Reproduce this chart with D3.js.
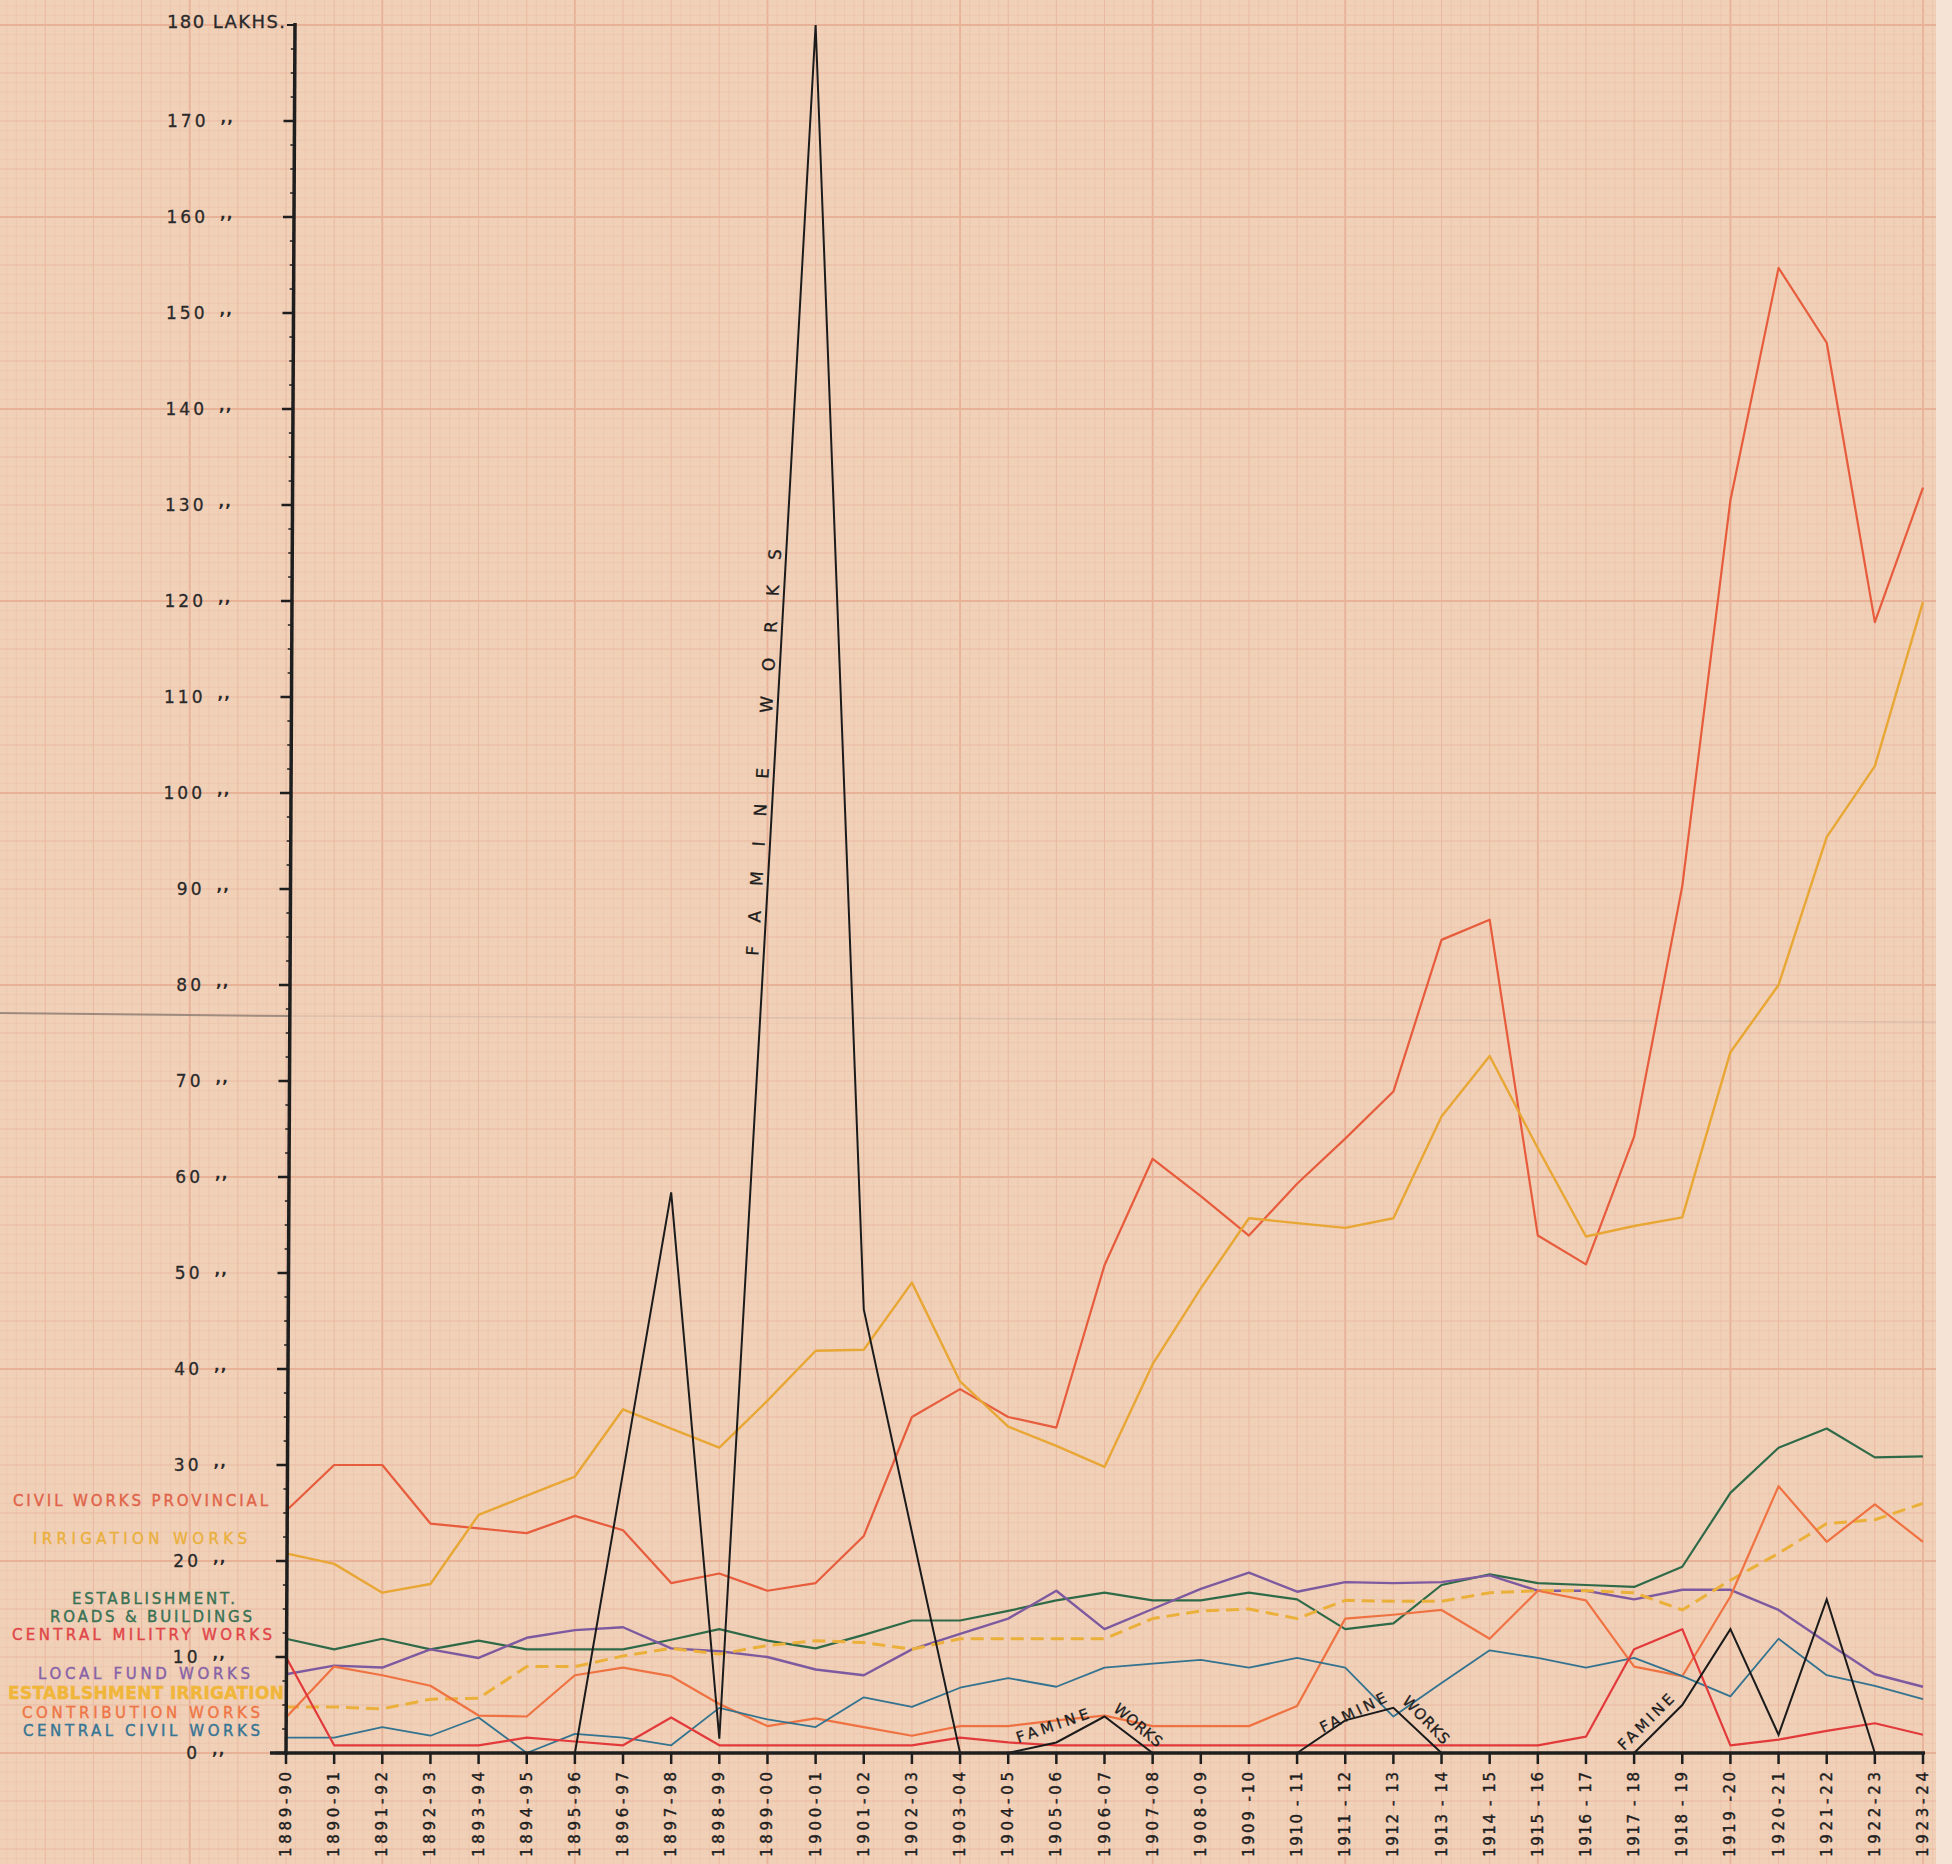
<!DOCTYPE html>
<html lang="en">
<head>
<meta charset="utf-8">
<title>Public Works expenditure 1889-90 to 1923-24</title>
<script src="https://d3js.org/d3.v7.min.js"></script>
<style>
  body { margin: 0; background: #f5e3d6; }
  svg { display: block; }
  text { font-family: "DejaVu Sans", sans-serif; }
</style>
</head>
<body>
<svg id="chart" width="1952" height="1864"></svg>
<script>

// ---- data (lakhs of rupees) ----
var years = ["1889-90","1890-91","1891-92","1892-93","1893-94","1894-95","1895-96","1896-97",
  "1897-98","1898-99","1899-00","1900-01","1901-02","1902-03","1903-04","1904-05","1905-06",
  "1906-07","1907-08","1908-09","1909 -10","1910 - 11","1911 - 12","1912 - 13","1913 - 14",
  "1914 - 15","1915 - 16","1916 - 17","1917 - 18","1918 - 19","1919 -20","1920-21","1921-22",
  "1922-23","1923-24"];

var civilProvincial = [25.2, 30, 30, 23.9, 23.4, 22.9, 24.7, 23.2, 17.7, 18.7, 16.9, 17.7, 22.6, 35,
  37.9, 35, 33.9, 50.8, 61.9, 58, 53.9, 59.3, 64, 68.9, 84.7, 86.8, 53.9, 50.9, 64.2, 90.3, 130.5,
  154.7, 146.9, 117.8, 131.8];
var irrigation = [20.8, 19.7, 16.7, 17.6, 24.8, 26.8, 28.8, 35.8, 33.8, 31.8, 36.7, 41.9, 42, 49,
  38.7, 34, 32, 29.8, 40.5, 48.4, 55.7, 55.2, 54.7, 55.7, 66.3, 72.6, 63, 53.8, 54.9, 55.8, 73, 80,
  95.4, 102.8, 119.9];
var estRoads = [11.9, 10.8, 11.9, 10.8, 11.7, 10.8, 10.8, 10.8, 11.8, 12.9, 11.7, 10.9, 12.3, 13.8,
  13.8, 14.8, 15.9, 16.7, 15.9, 15.9, 16.7, 16, 12.9, 13.5, 17.5, 18.6, 17.7, 17.5, 17.3, 19.4, 27.1,
  31.8, 33.8, 30.8, 30.9];
var centralMilitary = [10, 0.8, 0.8, 0.8, 0.8, 1.6, 1.2, 0.8, 3.7, 0.8, 0.8, 0.8, 0.8, 0.8, 1.6, 1.1,
  0.8, 0.8, 0.8, 0.8, 0.8, 0.8, 0.8, 0.8, 0.8, 0.8, 0.8, 1.7, 10.8, 12.9, 0.8, 1.4, 2.3, 3.1, 1.9];
var localFund = [8.2, 9.1, 8.9, 10.8, 9.9, 12, 12.8, 13.1, 10.9, 10.6, 10, 8.7, 8.1, 10.8, 12.4, 14,
  16.9, 12.9, 15, 17.1, 18.8, 16.8, 17.8, 17.7, 17.8, 18.5, 16.9, 16.9, 16, 17, 17, 14.9, 11.5, 8.2, 6.9];
var estIrrigation = [4.8, 4.8, 4.6, 5.6, 5.7, 9, 9, 10.1, 10.9, 10.3, 11.2, 11.7, 11.5, 10.8, 11.9,
  11.9, 11.9, 11.9, 14, 14.8, 15, 14, 15.9, 15.8, 15.8, 16.7, 16.9, 16.9, 16.7, 14.9, 18, 20.8, 23.9,
  24.3, 26];
var contribution = [3.7, 9, 8.1, 7, 3.9, 3.8, 8.1, 8.9, 8, 5.1, 2.8, 3.6, 2.7, 1.8, 2.8, 2.8, 3.4,
  3.9, 2.8, 2.8, 2.8, 4.9, 14, 14.4, 14.9, 11.9, 16.9, 15.9, 9, 8, 16.3, 27.8, 22, 25.9, 22];
var centralCivil = [1.6, 1.6, 2.7, 1.8, 3.7, 0, 2, 1.6, 0.8, 4.7, 3.5, 2.7, 5.8, 4.8, 6.8, 7.8, 6.9,
  8.9, 9.3, 9.7, 8.9, 9.9, 8.9, 3.8, 7.3, 10.7, 9.9, 8.9, 9.9, 8, 5.9, 11.9, 8.1, 7, 5.6];
// null = no famine works that year
var famine = [null, null, null, null, null, null, 0, 29.2, 58.4, 1.5, 90, 180, 46.2, 23, 0, 0, 1.1,
  3.8, 0, null, null, 0, 3.4, 4.7, 0, null, null, null, 0, 5, 12.9, 1.9, 16, 0, null];

var yTicks = d3.range(0, 180, 10);
var yTopLabel = "180 LAKHS.";

var series = [
  { values: civilProvincial, color: "#e65c3c", width: 2.2 },
  { values: irrigation,      color: "#e8a735", width: 2.4 },
  { values: estRoads,        color: "#2f6a48", width: 2.2 },
  { values: localFund,       color: "#7d5a9f", width: 2.4 },
  { values: estIrrigation,   color: "#ebb03a", width: 3, dash: "13,7" },
  { values: contribution,    color: "#ef7342", width: 2.2 },
  { values: centralCivil,    color: "#33738f", width: 1.8 },
  { values: centralMilitary, color: "#e2393a", width: 2.2 }
];

var legend = [
  { text: "CIVIL WORKS PROVINCIAL",  color: "#e0644a", x: 13, y: 1506, len: 255 },
  { text: "IRRIGATION  WORKS",       color: "#eab03e", x: 33, y: 1544, len: 214 },
  { text: "ESTABLISHMENT.",          color: "#3a7254", x: 72, y: 1604, len: 163 },
  { text: "ROADS & BUILDINGS",       color: "#3a7254", x: 50, y: 1622, len: 202 },
  { text: "CENTRAL MILITRY WORKS",   color: "#e04648", x: 12, y: 1640, len: 260 },
  { text: "LOCAL  FUND WORKS",       color: "#8762a6", x: 38, y: 1679, len: 212 },
  { text: "ESTABLSHMENT IRRIGATION", color: "#f0b63a", x: 8,  y: 1699, len: 276, size: 17, bold: true },
  { text: "CONTRIBUTION  WORKS",     color: "#ee7646", x: 22, y: 1718, len: 238 },
  { text: "CENTRAL CIVIL WORKS",     color: "#377594", x: 23, y: 1736, len: 237 }
];

// ---- setup ----
var svg = d3.select("#chart");
var W = 1952, H = 1864, paperRight = 1936;

var x = d3.scalePoint().domain(years).range([286, 1923]);
var y = d3.scaleLinear().domain([0, 180]).range([1753, 25]);
var step = x.step();
var x0 = x(years[0]);
// the hand-ruled vertical axis leans a little to the right towards the top
function axisX(v) { return x0 + 9 * v / 180; }

// ---- graph paper ----
svg.append("rect").attr("width", paperRight).attr("height", H).attr("fill", "#f1d0b8");
svg.append("rect").attr("x", paperRight).attr("width", W - paperRight).attr("height", H)
  .attr("fill", "#f5e3d6");

function gridStyle(sel, major, medium) {
  sel.attr("stroke", major ? "#e7b298" : medium ? "#e9b9a1" : "#ebc1aa")
     .attr("stroke-width", major ? 1.8 : medium ? 1 : 0.6);
}

var grid = svg.append("g");
d3.range(-29, 172).forEach(function(k) {
  var gx = x0 + k * step / 5;
  if (gx < 0 || gx > paperRight) return;
  grid.append("line").attr("x1", gx).attr("x2", gx).attr("y1", 0).attr("y2", H)
    .call(gridStyle, ((k - 10) % 20 + 20) % 20 === 0, k % 5 === 0);
});
d3.range(-11, 183).forEach(function(v) {
  grid.append("line").attr("x1", 0).attr("x2", paperRight).attr("y1", y(v)).attr("y2", y(v))
    .call(gridStyle, v % 20 === 0, v % 5 === 0);
});

// fold crease
svg.append("line").attr("x1", 0).attr("x2", 290).attr("y1", 1013).attr("y2", 1016)
  .attr("stroke", "#7d7068").attr("stroke-width", 2).attr("opacity", 0.7);
svg.append("line").attr("x1", 290).attr("x2", paperRight).attr("y1", 1016).attr("y2", 1022)
  .attr("stroke", "#a0918a").attr("stroke-width", 1.5).attr("opacity", 0.25);

// ---- lines ----
var line = d3.line()
  .defined(function(d) { return d != null; })
  .x(function(d, i) { return x(years[i]); })
  .y(function(d) { return y(d); });

svg.append("g").selectAll("path")
  .data(series)
  .enter()
  .append("path")
  .attr("d", function(s) { return line(s.values); })
  .attr("fill", "none")
  .attr("stroke", function(s) { return s.color; })
  .attr("stroke-width", function(s) { return s.width; })
  .attr("stroke-dasharray", function(s) { return s.dash || null; })
  .attr("stroke-linejoin", "round");

svg.append("path")
  .attr("d", line(famine))
  .attr("fill", "none")
  .attr("stroke", "#1b1b1b")
  .attr("stroke-width", 2)
  .attr("stroke-linejoin", "miter");

// ---- axes ----
var ink = "#1e1e1e";
svg.append("line").attr("x1", 270).attr("x2", 1925).attr("y1", y(0)).attr("y2", y(0))
  .attr("stroke", ink).attr("stroke-width", 3.5);
svg.append("line").attr("x1", axisX(180)).attr("x2", axisX(0)).attr("y1", y(180) - 2).attr("y2", y(0) + 2)
  .attr("stroke", ink).attr("stroke-width", 3.5);

years.forEach(function(yr) {
  var tx = x(yr);
  svg.append("line").attr("x1", tx).attr("x2", tx).attr("y1", y(0)).attr("y2", y(0) + 11)
    .attr("stroke", ink).attr("stroke-width", 2.5);
  svg.append("text")
    .attr("transform", "translate(" + tx + "," + 1772 + ") rotate(-90)")
    .attr("text-anchor", "end")
    .attr("dominant-baseline", "central")
    .attr("font-size", 15)
    .attr("fill", ink)
    .attr("stroke", ink)
    .attr("stroke-width", 0.4)
    .attr("textLength", 85)
    .attr("lengthAdjust", "spacing")
    .text(yr);
});

d3.range(2.5, 180, 2.5).forEach(function(v) {
  if (v % 10 === 0) return;
  svg.append("line").attr("x1", axisX(v) - 4).attr("x2", axisX(v)).attr("y1", y(v)).attr("y2", y(v))
    .attr("stroke", ink).attr("stroke-width", 1.5);
});

yTicks.forEach(function(v) {
  var ax = axisX(v), ty = y(v);
  svg.append("line").attr("x1", ax - 11).attr("x2", ax).attr("y1", ty).attr("y2", ty)
    .attr("stroke", ink).attr("stroke-width", 2.5);
  svg.append("text")
    .attr("x", ax - 86).attr("y", ty + 6)
    .attr("text-anchor", "end")
    .attr("font-size", 17)
    .attr("letter-spacing", 3)
    .attr("fill", "#2a2a2a")
    .attr("stroke", "#2a2a2a")
    .attr("stroke-width", 0.3)
    .text(v);
  svg.append("text")
    .attr("x", ax - 74).attr("y", ty + 2)
    .attr("font-size", 15)
    .attr("font-weight", "bold")
    .attr("letter-spacing", 1)
    .attr("fill", "#2a2a2a")
    .text(",,");
});
svg.append("line").attr("x1", axisX(180) - 8).attr("x2", axisX(180)).attr("y1", y(180)).attr("y2", y(180))
  .attr("stroke", ink).attr("stroke-width", 2);
svg.append("text")
  .attr("x", 167).attr("y", y(180) + 3)
  .attr("font-size", 18)
  .attr("fill", "#2a2a2a")
  .attr("stroke", "#2a2a2a")
  .attr("stroke-width", 0.3)
  .attr("textLength", 118)
  .attr("lengthAdjust", "spacing")
  .text(yTopLabel);

// ---- legend (coloured lettering at the left) ----
legend.forEach(function(d) {
  svg.append("text")
    .attr("x", d.x).attr("y", d.y)
    .attr("font-size", d.size || 15)
    .attr("font-weight", d.bold ? "bold" : "normal")
    .attr("fill", d.color)
    .attr("stroke", d.color)
    .attr("stroke-width", 0.4)
    .attr("textLength", d.len)
    .attr("lengthAdjust", "spacing")
    .text(d.text);
});

// ---- famine notes ----
function note(txt, px, py, angle, len, size) {
  svg.append("text")
    .attr("transform", "translate(" + px + "," + py + ") rotate(" + angle + ")")
    .attr("font-size", size)
    .attr("fill", ink)
    .attr("stroke", ink)
    .attr("stroke-width", 0.3)
    .attr("textLength", len)
    .attr("lengthAdjust", "spacing")
    .text(txt);
}

var p1 = [x(years[9]), y(famine[9])], p2 = [x(years[11]), y(famine[11])];
var ang = Math.atan2(p2[1] - p1[1], p2[0] - p1[0]);
var t = (83 - famine[9]) / (famine[11] - famine[9]);
var bx = p1[0] + t * (p2[0] - p1[0]) + 5 * Math.sin(ang);
var by = p1[1] + t * (p2[1] - p1[1]) - 5 * Math.cos(ang);
note("FAMINE WORKS", bx, by, ang * 180 / Math.PI, 407, 17);

note("FAMINE", x(years[15]) + 10, y(0) - 10, -19, 76, 15);
note("WORKS", x(years[17]) + 8, y(famine[17]) - 6, 40, 58, 15);
note("FAMINE", x(years[21]) + 26, y(0) - 20, -26, 72, 15);
note("WORKS", x(years[23]) + 8, y(famine[23]) - 6, 46, 60, 15);
note("FAMINE", x(years[28]) - 10, y(0) - 2, -45, 72, 15);

</script>
</body>
</html>
